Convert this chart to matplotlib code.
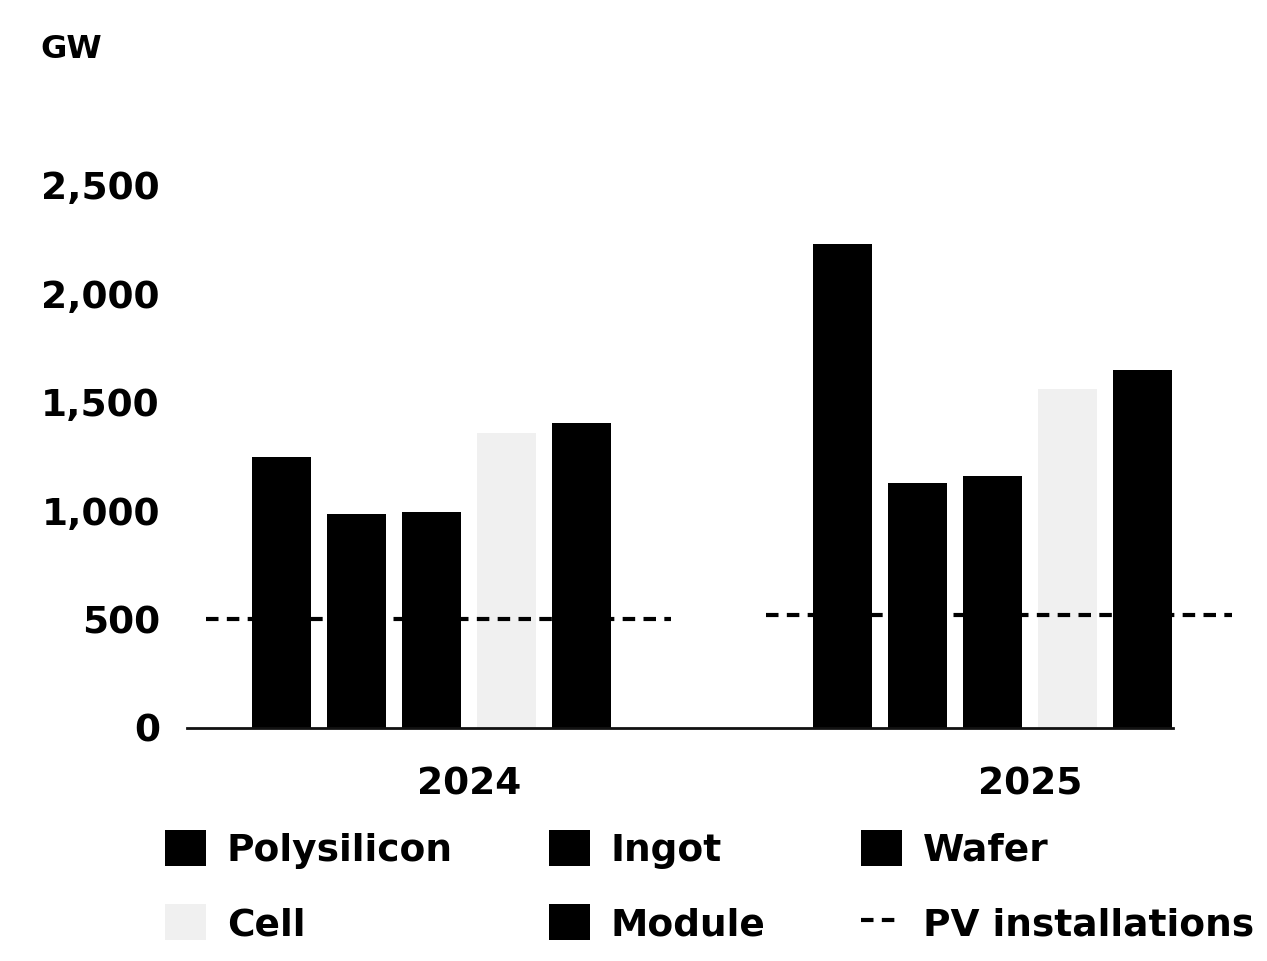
import matplotlib
matplotlib.use("Agg")
import matplotlib.pyplot as plt
import numpy as np

# values (GW)
years = ["2024", "2025"]
series = ["Polysilicon", "Ingot", "Wafer", "Cell", "Module"]
polysilicon = [1250, 2230]
ingot = [985, 1130]
wafer = [995, 1160]
cell = [1360, 1560]
module = [1405, 1650]
pv_installations = [500, 520]
yticks = [0, 500, 1000, 1500, 2000, 2500]
ytick_labels = ["0", "500", "1,000", "1,500", "2,000", "2,500"]

colors = ["#000000", "#000000", "#000000", "#f0f0f0", "#000000"]

fs = 27
plt.rcParams["font.family"] = ["DejaVu Sans"]

fig = plt.figure(figsize=(12.67, 9.61), dpi=100)
ax = fig.add_axes([187 / 1267, 1 - 728 / 961, (1173 - 187) / 1267, (728 - 141.6) / 961])

x = np.arange(len(years))
slot = 0.1337
bw = 0.105
vals = [polysilicon, ingot, wafer, cell, module]
handles = {}
for i, (name, v) in enumerate(zip(series, vals)):
    b = ax.bar(x + (i - 2.5) * slot, v, width=bw, color=colors[i],
               edgecolor="none", zorder=2)
    handles[name] = b

# installations drawn as a dashed level per year
for k, v in enumerate(pv_installations):
    ln, = ax.plot([x[k] - 0.47, x[k] + 0.36], [v, v], color="#000000", lw=3,
                  ls=(0, (3, 2)), clip_on=False, zorder=3)
handles["PV installations"] = ln

ax.set_xlim(-0.503, 1.255)
ax.set_ylim(0, 2700)
ax.set_yticks(yticks)
ax.set_yticklabels(ytick_labels)
ax.set_xticks(x)
ax.set_xticklabels(years)
ax.tick_params(axis="y", length=0, pad=19.5, labelsize=fs)
ax.tick_params(axis="x", length=0, pad=28, labelsize=fs)
for lab in ax.get_xticklabels() + ax.get_yticklabels():
    lab.set_fontweight("bold")
for s in ["top", "right", "left"]:
    ax.spines[s].set_visible(False)
ax.spines["bottom"].set_linewidth(2)
ax.spines["bottom"].set_color("#111111")

fig.text(40 / 1267, 1 - 50 / 961, "GW", fontsize=23, fontweight="bold", va="center")

# legend fills column by column, so order for rows:
# Polysilicon Ingot Wafer / Cell Module PV installations
order = ["Polysilicon", "Cell", "Ingot", "Module", "Wafer", "PV installations"]
leg = fig.legend([handles[n] for n in order], order, ncol=3,
                 loc="upper left", bbox_to_anchor=(165 / 1267, 1 - 830 / 961),
                 frameon=False, borderpad=0, borderaxespad=0,
                 handlelength=1.1, handleheight=1.1, handletextpad=0.55,
                 columnspacing=2.55, labelspacing=0.95,
                 prop={"size": fs, "weight": "bold"})

fig.savefig("out.png", dpi=100, facecolor="white")
